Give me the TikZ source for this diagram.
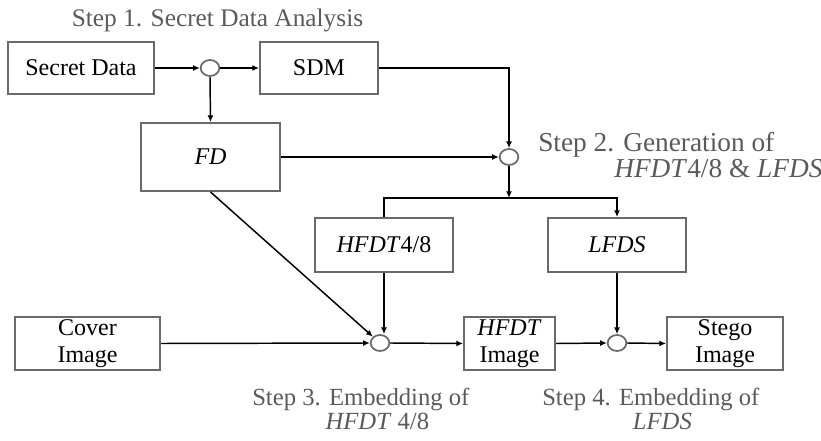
\documentclass[tikz,border=0pt]{standalone}
\usepackage{fontspec}
\setmainfont{Liberation Serif}
\usetikzlibrary{arrows.meta,shapes.geometric,calc}
\definecolor{boxgray}{HTML}{6A6A6A}
\definecolor{labgray}{HTML}{5A5A5A}
\newcommand{\twolines}[4]{\vtop{\baselineskip=#1\lineskiplimit=-30pt\lineskip=0pt\hbox{#2}\hbox{\hspace*{#3}#4}}}
\begin{document}
\begin{tikzpicture}[x=0.75pt,y=-0.75pt,
  box/.style={draw=boxgray,line width=1.5pt,fill=white,inner sep=0pt,align=center,
    font=\fontsize{18}{20}\selectfont},
  junc/.style={ellipse,draw=boxgray,line width=1.3pt,fill=white,minimum width=14pt,minimum height=12pt,inner sep=0pt},
  arr/.style={line width=1.1pt,-{Latex[length=5pt,width=4.5pt]}},
  steplab/.style={text=labgray,inner sep=0pt,font=\fontsize{19}{18}\selectfont}]
\useasboundingbox (0,0) rectangle (821,441);
% boxes
\node[box,minimum width=109.5pt,minimum height=39pt] (sd) at (81,68) {Secret Data};
\node[box,minimum width=88.5pt,minimum height=39pt] (sdm) at (319,68) {SDM};
\node[box,minimum width=104.25pt,minimum height=51pt] (fd) at (210.5,157) {\textit{FD}};
\node[box,minimum width=103.5pt,minimum height=40.5pt] (hf) at (384,245) {\textit{HFDT}4/8};
\node[box,minimum width=103.5pt,minimum height=40.5pt] (lf) at (617,245) {\textit{LFDS}};
\node[box,minimum width=108.75pt,minimum height=39.75pt] (cov) at (87.5,343.5) {Cover\\Image};
\node[box,minimum width=68.25pt,minimum height=39.75pt] (hfi) at (509.5,343.5) {\textit{HFDT}\\Image};
\node[box,minimum width=87pt,minimum height=39.75pt] (stg) at (725,343.5) {Stego\\Image};
% junctions
\node[junc] (c1) at (210,68) {};
\node[junc] (c2) at (509,157) {};
\node[junc] (c3) at (380,343) {};
\node[junc] (c4) at (617,343) {};
\coordinate (j) at (509,198);
% connectors
\draw[arr] (sd.east) -- (c1.west);
\draw[arr] (c1.east) -- (sdm.west);
\draw[arr] (c1.south) -- (fd.north);
\draw[arr] (sdm.east) -| (c2.north);
\draw[arr] (fd.east) -- (c2.west);
\draw[arr] (c2.south) -- (j);
\draw[arr] (hf.north) |- (j) -| (lf.north);
\draw[arr] (fd.south) -- (c3);
\draw[arr] (hf.south) -- (hf.south |- c3.north);
\draw[arr] (cov.east) -- (c3.west);
\draw[arr] (c3.east) -- (hfi.west);
\draw[arr] (hfi.east) -- (c4.west);
\draw[arr] (c4.east) -- (stg.west);
\draw[arr] (lf.south) -- (c4.north);
% labels
\node[steplab,anchor=base] (s1) at (217.5,27) {Step 1. Secret Data Analysis};
\node[steplab,anchor=base west,font=\fontsize{20.5}{19}\selectfont] (s2) at (538,152) {\twolines{19pt}{Step 2. Generation of}{57pt}{\textit{HFDT}4/8 \& \textit{LFDS}}};
\node[steplab,anchor=base west,font=\fontsize{18.5}{18}\selectfont] (s3) at (252,406) {\twolines{18pt}{Step 3. Embedding of}{55pt}{\textit{HFDT} 4/8}};
\node[steplab,anchor=base west,font=\fontsize{18.5}{18}\selectfont] (s4) at (542,406) {\twolines{18pt}{Step 4. Embedding of}{68pt}{\textit{LFDS}}};
\end{tikzpicture}
\end{document}
